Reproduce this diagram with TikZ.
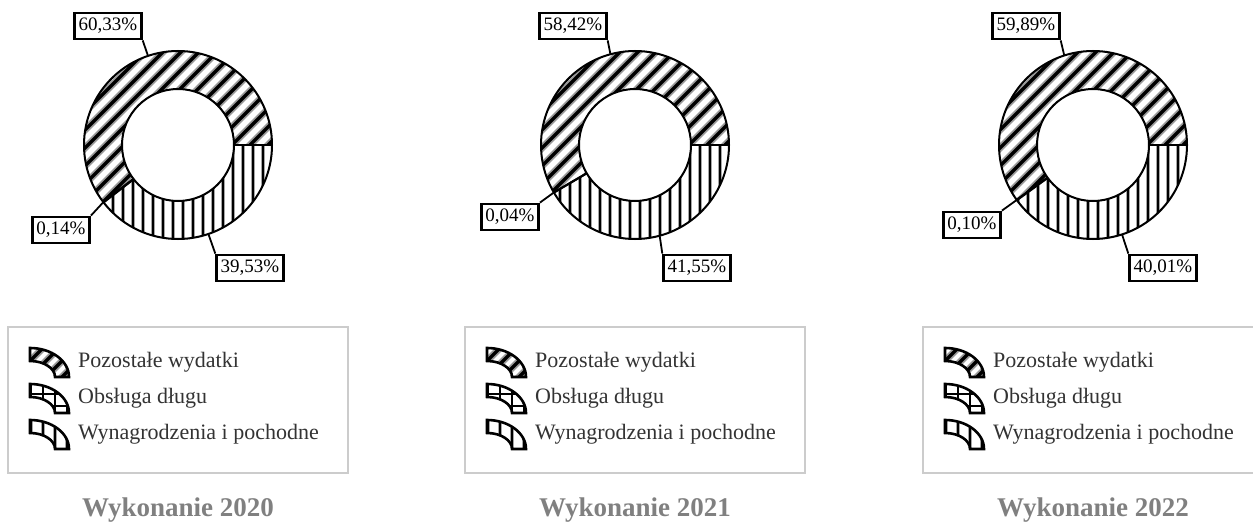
\documentclass[tikz,border=0pt]{standalone}
\usepackage{fontspec}
\setmainfont{Liberation Serif}
\usepackage{tikz}
\usepackage{xcolor}

\tikzset{
  seg/.style={draw=black, line width=2pt},
  lbl/.style={draw, fill=white, line width=2.8pt, inner xsep=4pt, inner ysep=0pt,
    minimum height=26pt, font=\fontsize{19}{22}\selectfont},
  leader/.style={line width=1.8pt},
  dhalo/.style={black!40, line width=7pt},
  dcore/.style={black, line width=3.5pt},
  vhalo/.style={black!35, line width=4pt},
  vcore/.style={black, line width=1.6pt},
  lgbox/.style={draw=black!20, line width=2pt},
  lgtext/.style={anchor=west, inner sep=0pt, text=black!80, font=\fontsize{22}{26}\selectfont},
  title/.style={text=black!50, font=\fontsize{27}{31}\selectfont\bfseries},
  iconpath/.style={insert path={(0,29) arc[start angle=90, end angle=0, x radius=39, y radius=29]
    -- (25,0) arc[start angle=0, end angle=90, x radius=25, y radius=16] -- cycle}}
}

\begin{document}
\begin{tikzpicture}[x=1pt, y=1pt]
\useasboundingbox (0,0) rectangle (1253,523);
\fill[white] (0,0) rectangle (1253,523);

\foreach \cx/\pw/\po/\lp/\lw/\lo/\xp/\xw/\xo/\yo/\yr [count=\i] in {
  178/39.53/0.14/{60,33\%}/{39,53\%}/{0,14\%}/-70/72/-117/-85/2020,
  635/41.55/0.04/{58,42\%}/{41,55\%}/{0,04\%}/-62/62/-125/-72/2021,
  1093/40.01/0.10/{59,89\%}/{40,01\%}/{0,10\%}/-67/70/-121/-80/2022}{
  \pgfmathsetmacro\aw{-3.6*\pw}
  \pgfmathsetmacro\ao{\aw-3.6*\po}
  \begin{scope}[shift={(\cx,378)}]
    % Wynagrodzenia i pochodne
    \begin{scope}
      \clip (0:94) arc[start angle=0, end angle=\aw, radius=94]
        -- (\aw:56) arc[start angle=\aw, end angle=0, radius=56] -- cycle;
      \foreach \k in {-95,-85,...,95} {
        \draw[vhalo] (\k,-100) -- (\k,100);
        \draw[vcore] (\k,-100) -- (\k,100);
      }
    \end{scope}
    % Obsluga dlugu
    \begin{scope}
      \clip (\aw:94) arc[start angle=\aw, end angle=\ao, radius=94]
        -- (\ao:56) arc[start angle=\ao, end angle=\aw, radius=56] -- cycle;
      \foreach \k in {-96,-84,...,96} {
        \draw[vcore] (\k,-100) -- (\k,100);
        \draw[vcore] (-100,\k) -- (100,\k);
      }
    \end{scope}
    % Pozostale wydatki
    \begin{scope}
      \clip (\ao:94) arc[start angle=\ao, end angle=-360, radius=94]
        -- (0:56) arc[start angle=-360, end angle=\ao, radius=56] -- cycle;
      \foreach \k in {-216,-198,...,216} {
        \draw[dhalo] (\k-110,-110) -- (\k+110,110);
        \draw[dcore] (\k-110,-110) -- (\k+110,110);
      }
    \end{scope}
    \draw[seg] (0,0) circle[radius=94];
    \draw[seg] (0,0) circle[radius=56];
    \draw[seg] (0:56) -- (0:94);
    \draw[seg] (\aw:56) -- (\aw:94);
    \draw[seg] (\ao:56) -- (\ao:94);

    \coordinate (mw\i) at ({-1.8*\pw}:94);
    \coordinate (mo\i) at ({(\aw+\ao)/2}:94);
    \coordinate (mp\i) at ({(\ao-360)/2}:94);
    \node[lbl] (tp\i) at (\xp,119) {\lp};
    \node[lbl] (tw\i) at (\xw,-123) {\lw};
    \node[lbl] (to\i) at (\xo,\yo) {\lo};
    \draw[leader] (tp\i.south east) -- (mp\i);
    \draw[leader] (tw\i.north west) -- (mw\i);
    \draw[leader] (to\i.north east) -- (mo\i);

    % legenda
    \draw[lgbox] (-170,-328) rectangle (170,-182);
    \begin{scope}[shift={(-148,-232)}]
      \begin{scope}
        \clip[iconpath];
        \foreach \k in {-32,-16,...,48} {
          \draw[dhalo] (\k-30,-30) -- (\k+30,30);
          \draw[dcore] (\k-30,-30) -- (\k+30,30);
        }
      \end{scope}
      \draw[seg, line width=2.6pt, iconpath];
    \end{scope}
    \begin{scope}[shift={(-148,-268)}]
      \begin{scope}
        \clip[iconpath];
        \foreach \k in {1,13,25,37} {
          \draw[vcore] (\k,-5) -- (\k,35);
          \draw[vcore] (-5,\k-6) -- (45,\k-6);
        }
      \end{scope}
      \draw[seg, line width=2.6pt, iconpath];
    \end{scope}
    \begin{scope}[shift={(-148,-304)}]
      \begin{scope}
        \clip[iconpath];
        \foreach \k in {1,13,25,37} {
          \draw[vhalo] (\k,-5) -- (\k,35);
          \draw[vcore] (\k,-5) -- (\k,35);
        }
      \end{scope}
      \draw[seg, line width=2.6pt, iconpath];
    \end{scope}
    \node[lgtext] (lp\i) at (-100,-217) {Pozostałe wydatki};
    \node[lgtext] (lo\i) at (-100,-253) {Obsługa długu};
    \node[lgtext] (lw\i) at (-100,-289) {Wynagrodzenia i pochodne};
    \node[title] (ti\i) at (0,-365) {Wykonanie \yr};
  \end{scope}
}
\end{tikzpicture}
\end{document}
